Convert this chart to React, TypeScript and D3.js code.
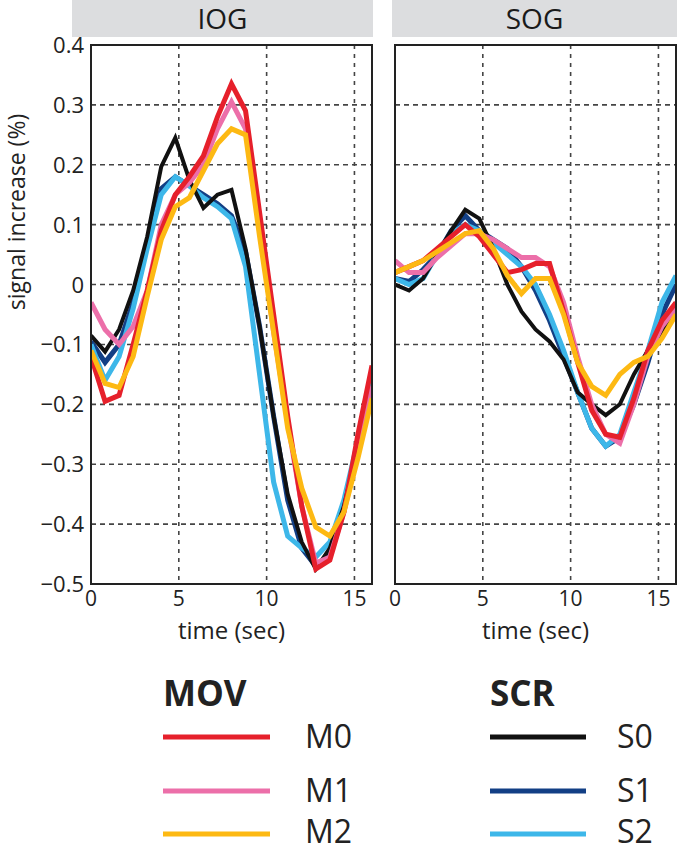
import React from "react";
import * as d3 from "d3";

const times = [0, 0.8, 1.6, 2.4, 3.2, 4.0, 4.8, 5.6, 6.4, 7.2, 8.0, 8.8, 9.6, 10.4, 11.2, 12.0, 12.8, 13.6, 14.4, 15.2, 16.0];

// IOG panel
const iogM0 = [-0.12, -0.195, -0.185, -0.1, -0.01, 0.09, 0.15, 0.18, 0.215, 0.28, 0.335, 0.29, 0.12, -0.05, -0.22, -0.37, -0.475, -0.46, -0.38, -0.25, -0.135];
const iogM1 = [-0.03, -0.075, -0.1, -0.07, -0.01, 0.1, 0.15, 0.17, 0.2, 0.26, 0.305, 0.26, 0.1, -0.08, -0.23, -0.37, -0.465, -0.455, -0.38, -0.28, -0.17];
const iogM2 = [-0.11, -0.165, -0.172, -0.12, -0.02, 0.075, 0.13, 0.145, 0.19, 0.235, 0.26, 0.25, 0.08, -0.08, -0.24, -0.34, -0.405, -0.42, -0.38, -0.29, -0.19];
const iogS0 = [-0.085, -0.112, -0.075, -0.01, 0.08, 0.197, 0.245, 0.175, 0.128, 0.15, 0.158, 0.06, -0.07, -0.22, -0.35, -0.43, -0.475, -0.44, -0.37, -0.27, -0.18];
const iogS1 = [-0.095, -0.13, -0.1, -0.03, 0.07, 0.16, 0.18, 0.165, 0.15, 0.135, 0.115, 0.055, -0.07, -0.22, -0.36, -0.44, -0.47, -0.45, -0.37, -0.27, -0.17];
const iogS2 = [-0.1, -0.16, -0.12, -0.04, 0.06, 0.15, 0.18, 0.165, 0.145, 0.13, 0.11, 0.03, -0.15, -0.33, -0.42, -0.44, -0.455, -0.43, -0.36, -0.26, -0.16];

// SOG panel
const sogM0 = [0.02, 0.03, 0.04, 0.06, 0.08, 0.1, 0.08, 0.05, 0.02, 0.025, 0.035, 0.035, -0.045, -0.13, -0.21, -0.25, -0.255, -0.19, -0.11, -0.06, -0.03];
const sogM1 = [0.04, 0.02, 0.02, 0.045, 0.065, 0.085, 0.085, 0.075, 0.06, 0.045, 0.045, 0.03, -0.03, -0.12, -0.2, -0.25, -0.265, -0.2, -0.12, -0.07, -0.04];
const sogM2 = [0.02, 0.03, 0.04, 0.055, 0.07, 0.085, 0.09, 0.06, 0.015, -0.015, 0.01, 0.01, -0.05, -0.13, -0.17, -0.185, -0.15, -0.13, -0.12, -0.09, -0.05];
const sogS0 = [0.0, -0.01, 0.01, 0.05, 0.09, 0.125, 0.11, 0.06, 0.0, -0.045, -0.075, -0.095, -0.125, -0.18, -0.2, -0.218, -0.2, -0.15, -0.11, -0.08, -0.04];
const sogS1 = [0.01, 0.005, 0.025, 0.05, 0.09, 0.115, 0.09, 0.075, 0.06, 0.03, -0.01, -0.06, -0.12, -0.18, -0.24, -0.27, -0.255, -0.2, -0.13, -0.05, 0.0];
const sogS2 = [0.01, 0.0, 0.01, 0.05, 0.085, 0.1, 0.09, 0.07, 0.05, 0.03, 0.0, -0.05, -0.11, -0.18, -0.24, -0.27, -0.25, -0.18, -0.11, -0.03, 0.015];

const yTicks = [0.4, 0.3, 0.2, 0.1, 0, -0.1, -0.2, -0.3, -0.4, -0.5];
const xTicks = [0, 5, 10, 15];
const panelTitles = ["IOG", "SOG"];
const seriesNames = ["S1", "S2", "S0", "M1", "M0", "M2"];
const colors: Record<string, string> = {
  M0: "#e6202b",
  M1: "#ec6fa9",
  M2: "#fdb913",
  S0: "#111111",
  S1: "#123f85",
  S2: "#3db7e9",
};
const movNames = ["M0", "M1", "M2"];
const scrNames = ["S0", "S1", "S2"];

const panelData = [
  { S1: iogS1, S2: iogS2, S0: iogS0, M1: iogM1, M0: iogM0, M2: iogM2 },
  { S1: sogS1, S2: sogS2, S0: sogS0, M1: sogM1, M0: sogM0, M2: sogM2 },
];

const FONT = "'Open Sans', 'Noto Sans', sans-serif";
const W = 677;
const H = 853;
const top = 45;
const bottom = 584;
const panels = [
  { left: 91, right: 372, hx0: 72, hx1: 373 },
  { left: 395, right: 676, hx0: 392, hx1: 677 },
];
const legendRows = [737, 791, 834];

function fmt(v: number) {
  if (Math.abs(v) < 1e-9) return "0";
  const s = Math.abs(v).toFixed(1);
  return v < 0 ? "\u2212" + s : s;
}

export default function App() {
  const y = d3.scaleLinear().domain([-0.5, 0.4]).range([bottom, top]);
  return (
    <svg width={W} height={H} style={{ position: "absolute", left: 0, top: 0, background: "#fff" }} fontFamily={FONT}>
      {panels.map((p, pi) => {
        const x = d3.scaleLinear().domain([0, 16]).range([p.left, p.right]);
        const line = d3
          .line<number>()
          .x((_, i) => x(times[i]))
          .y((d) => y(d));
        const data = panelData[pi] as Record<string, number[]>;
        return (
          <g key={pi}>
            <rect x={p.hx0} y={0} width={p.hx1 - p.hx0} height={37} fill="#dcdddf" />
            <text x={(p.hx0 + p.hx1) / 2} y={29} textAnchor="middle" fontSize={28} fill="#1a1a1a">
              {panelTitles[pi]}
            </text>
            <defs>
              <clipPath id={`clip${pi}`}>
                <rect x={p.left} y={top} width={p.right - p.left} height={bottom - top} />
              </clipPath>
            </defs>
            {yTicks.slice(1, -1).map((t) => (
              <line key={`h${t}`} x1={p.left} x2={p.right} y1={y(t)} y2={y(t)} stroke="#444" strokeWidth={1.6} strokeDasharray="5,4" />
            ))}
            {xTicks.slice(1).map((t) => (
              <line key={`v${t}`} x1={x(t)} x2={x(t)} y1={top} y2={bottom} stroke="#444" strokeWidth={1.6} strokeDasharray="4,5" />
            ))}
            <g clipPath={`url(#clip${pi})`}>
              {seriesNames.map((s) => (
                <path
                  key={s}
                  d={line(data[s]) || ""}
                  fill="none"
                  stroke={colors[s]}
                  strokeWidth={s === "S0" ? 4 : 5}
                  strokeLinejoin="miter"
                  strokeMiterlimit={3}
                />
              ))}
            </g>
            <rect x={p.left} y={top} width={p.right - p.left} height={bottom - top} fill="none" stroke="#222" strokeWidth={2} />
            {pi === 0 &&
              yTicks.map((t) => (
                <text key={`yl${t}`} x={p.left - 7} y={y(t) + 8} textAnchor="end" fontSize={22} fill="#222">
                  {fmt(t)}
                </text>
              ))}
            {xTicks.map((t) => (
              <text key={`xl${t}`} x={x(t)} y={606} textAnchor="middle" fontSize={21} fill="#222">
                {t}
              </text>
            ))}
            <text x={(p.left + p.right) / 2} y={639} textAnchor="middle" fontSize={24} fill="#222">
              time (sec)
            </text>
          </g>
        );
      })}
      <text transform={`translate(25,212) rotate(-90)`} textAnchor="middle" fontSize={23} fill="#222">
        signal increase (%)
      </text>
      {/* Legend */}
      <text x={163} y={706} fontSize={35} fontWeight="bold" fill="#222">MOV</text>
      <text x={490} y={706} fontSize={35} fontWeight="bold" fill="#222">SCR</text>
      {movNames.map((n, i) => {
        const ly = legendRows[i];
        return (
          <g key={n}>
            <line x1={163} x2={270} y1={ly} y2={ly} stroke={colors[n]} strokeWidth={5} />
            <text x={305} y={Math.min(ly + 11, 843)} fontSize={32} fill="#222">{n}</text>
          </g>
        );
      })}
      {scrNames.map((n, i) => {
        const ly = legendRows[i];
        return (
          <g key={n}>
            <line x1={490} x2={586} y1={ly} y2={ly} stroke={colors[n]} strokeWidth={5} />
            <text x={617} y={Math.min(ly + 11, 843)} fontSize={32} fill="#222">{n}</text>
          </g>
        );
      })}
    </svg>
  );
}
